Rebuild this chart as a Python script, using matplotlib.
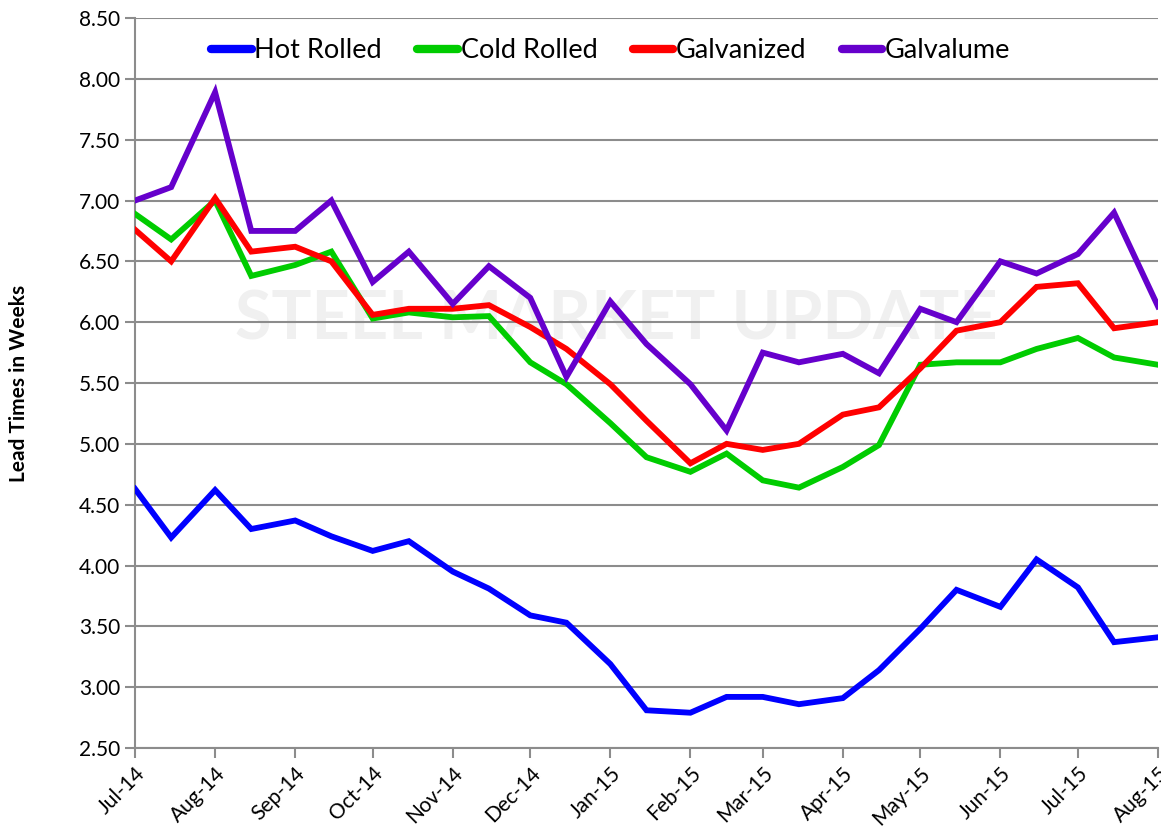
import matplotlib
matplotlib.use("Agg")
import matplotlib.pyplot as plt
import matplotlib.dates as mdates
import matplotlib.ticker as mticker
import pandas as pd

# Survey dates: start and middle of each month
dates = pd.to_datetime([
    "2014-07-01", "2014-07-15", "2014-08-01", "2014-08-15", "2014-09-01", "2014-09-15",
    "2014-10-01", "2014-10-15", "2014-11-01", "2014-11-15", "2014-12-01", "2014-12-15",
    "2015-01-01", "2015-01-15", "2015-02-01", "2015-02-15", "2015-03-01", "2015-03-15",
    "2015-04-01", "2015-04-15", "2015-05-01", "2015-05-15", "2015-06-01", "2015-06-15",
    "2015-07-01", "2015-07-15", "2015-08-01",
])

hot_rolled = [4.63, 4.23, 4.62, 4.30, 4.37, 4.24, 4.12, 4.20, 3.95, 3.81, 3.59, 3.53,
              3.19, 2.81, 2.79, 2.92, 2.92, 2.86, 2.91, 3.14, 3.48, 3.80, 3.66, 4.05,
              3.82, 3.37, 3.41]
cold_rolled = [6.89, 6.68, 7.00, 6.38, 6.47, 6.58, 6.03, 6.08, 6.04, 6.05, 5.67, 5.49,
               5.17, 4.89, 4.77, 4.92, 4.70, 4.64, 4.81, 4.99, 5.65, 5.67, 5.67, 5.78,
               5.87, 5.71, 5.65]
galvanized = [6.76, 6.50, 7.02, 6.58, 6.62, 6.50, 6.06, 6.11, 6.11, 6.14, 5.96, 5.78,
              5.49, 5.19, 4.84, 5.00, 4.95, 5.00, 5.24, 5.30, 5.62, 5.93, 6.00, 6.29,
              6.32, 5.95, 6.00]
galvalume = [7.00, 7.11, 7.89, 6.75, 6.75, 7.00, 6.33, 6.58, 6.15, 6.46, 6.20, 5.55,
             6.17, 5.82, 5.49, 5.11, 5.75, 5.67, 5.74, 5.58, 6.11, 6.00, 6.50, 6.40,
             6.56, 6.90, 6.13]

series = [
    ("Hot Rolled", hot_rolled, "#0000FF"),
    ("Cold Rolled", cold_rolled, "#00CC00"),
    ("Galvanized", galvanized, "#FF0000"),
    ("Galvalume", galvalume, "#6600CC"),
]

plt.rcParams["font.family"] = ["Lato", "DejaVu Sans"]

fig = plt.figure(figsize=(11.61, 8.38), dpi=100)
ax = fig.add_axes([0.1163, 0.1074, 0.8811, 0.8711])

# faint watermark behind the data
ax.text(0.47, 0.585, "STEEL MARKET UPDATE", transform=ax.transAxes,
        ha="center", va="center", fontsize=48, fontweight="bold",
        color="#f0f0f0", zorder=0)

for name, vals, color in series:
    ax.plot(dates, vals, color=color, lw=4.2, label=name,
            solid_joinstyle="miter", zorder=3)

ax.set_xlim(pd.Timestamp("2014-07-01"), pd.Timestamp("2015-08-01"))
ax.set_ylim(2.5, 8.5)
ax.yaxis.set_major_locator(mticker.MultipleLocator(0.5))
ax.yaxis.set_major_formatter(mticker.FormatStrFormatter("%.2f"))
ax.xaxis.set_major_locator(mdates.MonthLocator())
ax.xaxis.set_major_formatter(mdates.DateFormatter("%b-%y"))

ax.grid(axis="y", color="#8c8c8c", lw=1.5, zorder=1)
ax.set_axisbelow(True)
for side in ["top", "right"]:
    ax.spines[side].set_visible(False)
for side in ["left", "bottom"]:
    ax.spines[side].set_color("#8c8c8c")
    ax.spines[side].set_linewidth(1.5)

ax.tick_params(axis="both", colors="#8c8c8c", width=1.5, length=7,
               labelcolor="black", labelsize=15)
ax.tick_params(axis="x", pad=4)
plt.setp(ax.get_xticklabels(), rotation=45, ha="right", rotation_mode="anchor")

ax.set_ylabel("Lead Times in Weeks", fontsize=15, fontweight="bold", labelpad=36)

leg = ax.legend(loc="center", bbox_to_anchor=(0.465, 0.955), ncol=4, frameon=False,
                fontsize=19.5, handlelength=1.5, handletextpad=0.1,
                columnspacing=1.3)
for line in leg.get_lines():
    line.set_linewidth(6)
    line.set_solid_capstyle("round")

fig.savefig("out.png", dpi=100)
